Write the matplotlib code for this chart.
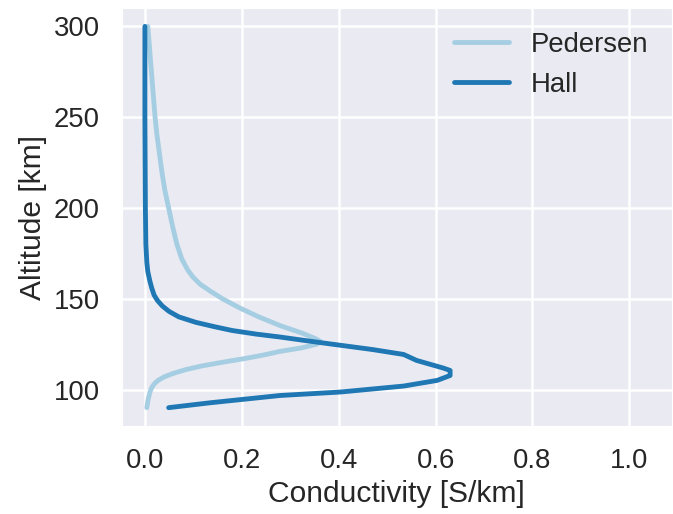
import numpy as np
import matplotlib
matplotlib.use('Agg')
import matplotlib.pyplot as plt
import seaborn as sns

# conductivity profiles [S/km] vs altitude [km]
ped_alt = [300, 290, 280, 270, 260, 250, 240, 230, 220, 210, 200, 190, 180, 172, 166,
           162, 158, 154, 150, 145, 140, 135, 131, 128, 126.5, 125, 123, 121, 119,
           117, 115, 113, 111, 109, 107, 105, 103, 101, 99, 95, 90]
ped_sig = [0.006, 0.009, 0.012, 0.015, 0.018, 0.021, 0.025, 0.030, 0.035, 0.041, 0.049,
           0.057, 0.066, 0.076, 0.088, 0.099, 0.114, 0.136, 0.160, 0.195, 0.235, 0.281,
           0.325, 0.352, 0.362, 0.355, 0.325, 0.279, 0.245, 0.205, 0.160, 0.118, 0.085,
           0.060, 0.040, 0.027, 0.019, 0.014, 0.011, 0.007, 0.004]

hall_alt = [300, 250, 200, 180, 170, 165, 160, 156, 152, 149, 146, 143, 140, 137, 134.5,
            132.5, 130.5, 128.9, 127, 125.2, 122, 119.3, 116, 111.8, 110.5, 107.7, 105,
            101.9, 98.6, 96.7, 92.7, 90]
hall_sig = [0.000, 0.000, 0.001, 0.002, 0.004, 0.006, 0.010, 0.014, 0.019, 0.026, 0.036,
            0.050, 0.070, 0.105, 0.145, 0.180, 0.230, 0.279, 0.330, 0.380, 0.470, 0.534,
            0.561, 0.616, 0.630, 0.630, 0.603, 0.534, 0.403, 0.279, 0.135, 0.049]

sns.set_theme(style='darkgrid', context='talk')
plt.rcParams['font.family'] = ['Liberation Sans', 'DejaVu Sans']
colors = sns.color_palette('Paired')

fig = plt.figure(figsize=(673 / 120, 514 / 120), dpi=120)
ax = fig.add_axes([0.1793, 0.1698, 0.8207, 0.816])

ax.plot(ped_sig, ped_alt, color=colors[0], lw=2.9, solid_capstyle='round', label='Pedersen')
ax.plot(hall_sig, hall_alt, color=colors[1], lw=2.9, solid_capstyle='round', label='Hall')

ax.set_xlim(-0.05, 1.09)
ax.set_ylim(79.5, 310.5)
ax.set_xticks([0.0, 0.2, 0.4, 0.6, 0.8, 1.0])
ax.set_yticks([100, 150, 200, 250, 300])
ax.set_xlabel('Conductivity [S/km]')
ax.set_ylabel('Altitude [km]')
ax.legend(loc='upper right', frameon=False)

fig.savefig('out.png', dpi=120)
